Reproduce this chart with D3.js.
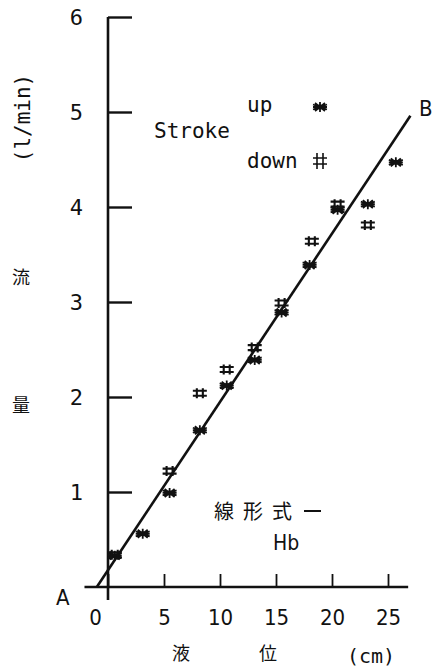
<!DOCTYPE html>
<html lang="ja">
<head>
<meta charset="utf-8">
<title>流量と液位</title>
<script src="https://d3js.org/d3.v7.min.js"></script>
<style>
  body { margin: 0; background: #fff; }
  .mono { font-family: "DejaVu Sans Mono", monospace; fill: #111; }
  .cjk { font-family: "Noto Sans CJK JP", sans-serif; fill: #111; }
</style>
</head>
<body>
<div id="chart"></div>
<script>
// values
var xTicks = [0, 5, 10, 15, 20, 25];
var yTicks = [1, 2, 3, 4, 5, 6];
var upX   = [0.6, 3.1, 5.5, 8.2, 10.6, 13.1, 15.5, 18.0, 20.5, 23.2, 25.7];
var upY   = [0.33, 0.56, 0.99, 1.65, 2.12, 2.39, 2.89, 3.39, 3.97, 4.03, 4.47];
var downX = [0.6, 5.5, 8.2, 10.6, 13.1, 15.5, 18.2, 20.5, 23.2];
var downY = [0.34, 1.22, 2.04, 2.29, 2.52, 2.99, 3.64, 4.03, 3.81];
var lineX = [-1.0, 27.0];
var lineY = [0, 4.96];

var W = 433, H = 670;
var svg = d3.select('#chart').append('svg')
  .attr('width', W).attr('height', H);

var x = d3.scaleLinear().domain([0, 25]).range([108, 388]);
var y = d3.scaleLinear().domain([0, 6]).range([587, 17]);

// axes lines (drawn longer than the domain, as in the figure)
svg.append('line')
  .attr('x1', x(0)).attr('x2', x(0))
  .attr('y1', y(6)).attr('y2', y(0) + 13)
  .attr('stroke', '#111').attr('stroke-width', 2.6);
svg.append('line')
  .attr('x1', x(-2.1)).attr('x2', x(26.8))
  .attr('y1', y(0)).attr('y2', y(0))
  .attr('stroke', '#111').attr('stroke-width', 2.6);

// y axis ticks point into the plot
var yAxis = d3.axisLeft(y).tickValues(yTicks).tickSize(-24).tickPadding(25)
  .tickFormat(d3.format('d'));
var gy = svg.append('g').attr('transform', 'translate(' + x(0) + ',0)').call(yAxis);
gy.select('.domain').remove();
gy.selectAll('line').attr('stroke', '#111').attr('stroke-width', 2.4);
gy.selectAll('text').attr('class', 'mono').attr('font-size', 22)
  .attr('font-family', 'DejaVu Sans Condensed, sans-serif').attr('dy', '0.35em');

// x axis ticks point up
var xAxis = d3.axisBottom(x).tickValues(xTicks).tickSize(-13).tickPadding(22)
  .tickFormat(d3.format('d'));
var gx = svg.append('g').attr('transform', 'translate(0,' + y(0) + ')').call(xAxis);
gx.select('.domain').remove();
gx.selectAll('line').attr('stroke', '#111').attr('stroke-width', 1.8);
gx.selectAll('text').attr('font-size', 22)
  .attr('font-family', 'DejaVu Sans Condensed, sans-serif').attr('fill', '#111');
gx.selectAll('.tick').filter(function(d) { return d === 0; })
  .select('text').attr('dx', -13);

// fitted line A-B
svg.append('line')
  .attr('x1', x(lineX[0])).attr('y1', y(lineY[0]))
  .attr('x2', x(lineX[1])).attr('y2', y(lineY[1]))
  .attr('stroke', '#111').attr('stroke-width', 2.6);

// markers
var starPath = 'M-7,0L7,0M0,-5L0,5M-5,-4L5,4M-5,4L5,-4M-7,-2.5L7,2.5M-7,2.5L7,-2.5';
var hashPath = 'M-7,-2.5L7,-2.5M-7,2.5L7,2.5M-3,-5L-3,5M3,-5L3,5';

function drawStar(g, cx, cy) {
  var s = g.append('g').attr('transform', 'translate(' + cx + ',' + cy + ')');
  s.append('ellipse').attr('rx', 3.5).attr('ry', 2.5).attr('fill', '#111');
  s.append('path').attr('d', starPath).attr('stroke', '#111')
    .attr('stroke-width', 1.8).attr('fill', 'none');
}
function drawHash(g, cx, cy) {
  g.append('path').attr('d', hashPath)
    .attr('transform', 'translate(' + cx + ',' + cy + ')')
    .attr('stroke', '#111').attr('stroke-width', 2.1).attr('fill', 'none');
}

var pts = svg.append('g');
upX.forEach(function(v, i) { drawStar(pts, x(v), y(upY[i])); });
downX.forEach(function(v, i) { drawHash(pts, x(v), y(downY[i])); });

// legend
svg.append('text').attr('class', 'mono').attr('font-size', 21)
  .attr('x', 154).attr('y', 138).text('Stroke');
svg.append('text').attr('class', 'mono').attr('font-size', 21)
  .attr('x', 247).attr('y', 112).text('up');
svg.append('text').attr('class', 'mono').attr('font-size', 21)
  .attr('x', 247).attr('y', 168).text('down');
drawStar(svg, 320, 107);
svg.append('path').attr('d', 'M-7,-3L7,-3M-7,3L7,3M-3,-8L-3,8M3,-8L3,8')
  .attr('transform', 'translate(320,161)')
  .attr('stroke', '#111').attr('stroke-width', 1.6).attr('fill', 'none');

// point labels
svg.append('text').attr('font-family', 'DejaVu Sans Condensed, sans-serif')
  .attr('font-size', 22).attr('fill', '#111')
  .attr('x', 56).attr('y', 605).text('A');
svg.append('text').attr('font-family', 'DejaVu Sans Condensed, sans-serif')
  .attr('font-size', 22).attr('fill', '#111')
  .attr('x', 419).attr('y', 116).text('B');

// formula note
svg.append('text').attr('class', 'cjk').attr('font-size', 20)
  .attr('letter-spacing', 9).attr('x', 214).attr('y', 519).text('線形式');
svg.append('line').attr('x1', 304).attr('x2', 321).attr('y1', 511).attr('y2', 511)
  .attr('stroke', '#111').attr('stroke-width', 2);
svg.append('text').attr('font-family', 'DejaVu Sans Condensed, sans-serif')
  .attr('font-size', 21).attr('fill', '#111')
  .attr('x', 273).attr('y', 550).text('Hb');

// axis titles
svg.append('text').attr('class', 'mono').attr('font-size', 21)
  .attr('text-anchor', 'middle')
  .attr('transform', 'translate(30,118) rotate(-90)').text('(l/min)');
svg.append('text').attr('class', 'cjk').attr('font-size', 18)
  .attr('text-anchor', 'middle').attr('x', 21).attr('y', 284).text('流');
svg.append('text').attr('class', 'cjk').attr('font-size', 18)
  .attr('text-anchor', 'middle').attr('x', 21).attr('y', 412).text('量');
svg.append('text').attr('class', 'cjk').attr('font-size', 18)
  .attr('text-anchor', 'middle').attr('x', 181).attr('y', 660).text('液');
svg.append('text').attr('class', 'cjk').attr('font-size', 18)
  .attr('text-anchor', 'middle').attr('x', 268).attr('y', 660).text('位');
svg.append('text').attr('class', 'mono').attr('font-size', 20)
  .attr('text-anchor', 'middle').attr('x', 371).attr('y', 663).text('(cm)');
</script>
</body>
</html>
